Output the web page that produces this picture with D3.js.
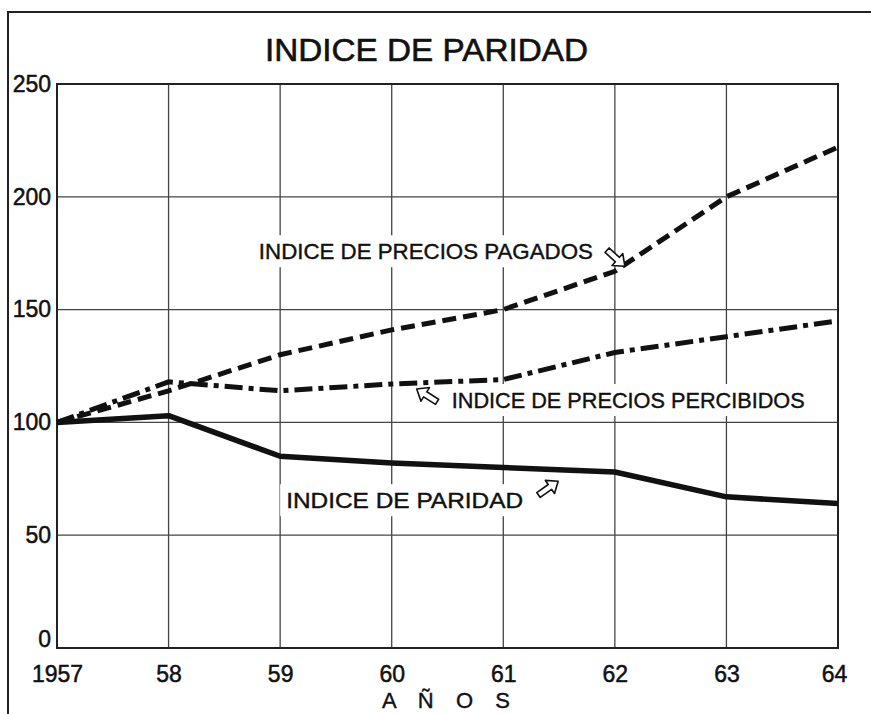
<!DOCTYPE html>
<html>
<head>
<meta charset="utf-8">
<script src="https://cdn.jsdelivr.net/npm/d3@7"></script>
<style>
    body { margin: 0; background: #fff; }
    text { font-family: "Liberation Sans", Arial, sans-serif; fill: #111; }
</style>
</head>
<body>
<svg id="chart"></svg>
<script>
// years on the x axis
const years = ['1957', '58', '59', '60', '61', '62', '63', '64'];
// index values
const pagados = [100, 114, 130, 141, 150, 167, 200, 222];
const percibidos = [100, 118, 114, 117, 119, 131, 138, 145];
const paridad = [100, 103, 85, 82, 80, 78, 67, 64];
const yTicks = [0, 50, 100, 150, 200, 250];

const title = 'INDICE DE PARIDAD';
const xTitle = 'A Ñ O S';

// labels for the three lines, placed next to a point of the series
const notes = [
    { text: 'INDICE DE PRECIOS PAGADOS', series: pagados, at: 5, anchor: 'end', dx: -22, dy: -12, len: 334, ax: 10, ay: -5, angle: 42 },
    { text: 'INDICE DE PRECIOS PERCIBIDOS', series: percibidos, at: 3, anchor: 'start', dx: 60, dy: 24, len: 353, ax: 25, ay: 5, angle: 212 },
    { text: 'INDICE DE PARIDAD', series: paridad, at: 2, anchor: 'start', dx: 6, dy: 52, len: 237, ax: 278, ay: 25, angle: -35 }
];

function drawChart() {
    const width = 871;
    const height = 714;
    const margin = { top: 84, right: 33, bottom: 66, left: 57 };

// Create SVG element
    const svg = d3.select('#chart')
        .attr('width', width)
        .attr('height', height);

    svg.append('rect').attr('width', width).attr('height', height).attr('fill', '#fff');

// outer frame (top and left edge of the sheet)
    svg.append('path')
        .attr('d', `M8,${height} L8,12 L${width},12`)
        .attr('fill', 'none')
        .attr('stroke', '#222')
        .attr('stroke-width', 2);

// scales
    const x = d3.scalePoint(years, [margin.left, width - margin.right]);
    const y = d3.scaleLinear([0, 250], [height - margin.bottom, margin.top]);

// vertical grid
    const grid = svg.append('g');
    grid.selectAll('.vgrid')
        .data(years)
        .enter().append('line')
        .attr('x1', d => x(d)).attr('x2', d => x(d))
        .attr('y1', y(0)).attr('y2', y(250))
        .attr('stroke', '#444')
        .attr('stroke-width', 1.3);

// white patches behind the labels (vertical grid is broken there)
    notes.forEach(n => {
        const px = x(years[n.at]) + n.dx;
        const py = n.series[n.at];
        const left = n.anchor === 'end' ? px - n.len : px;
        svg.append('rect')
            .attr('x', left - 6)
            .attr('y', y(py) + n.dy - 24)
            .attr('width', n.len + 12)
            .attr('height', 32)
            .attr('fill', '#fff');
    });

// horizontal grid
    grid.selectAll('.hgrid')
        .data(yTicks)
        .enter().append('line')
        .attr('x1', x(years[0])).attr('x2', x(years[years.length - 1]))
        .attr('y1', d => y(d)).attr('y2', d => y(d))
        .attr('stroke', '#444')
        .attr('stroke-width', 1.3);

// border of the plot
    svg.append('rect')
        .attr('x', x(years[0]))
        .attr('y', y(250))
        .attr('width', x(years[years.length - 1]) - x(years[0]))
        .attr('height', y(0) - y(250))
        .attr('fill', 'none')
        .attr('stroke', '#222')
        .attr('stroke-width', 2);

// axes labels
    const yAxis = d3.axisLeft(y).tickValues(yTicks).tickSize(0).tickPadding(6);
    svg.append('g')
        .attr('transform', `translate(${margin.left},0)`)
        .call(yAxis)
        .call(g => g.select('.domain').remove())
        .selectAll('text')
        .attr('font-size', 23)
        .attr('font-family', '"Liberation Sans", Arial, sans-serif')
        .attr('fill', '#111')
        .attr('stroke', '#111').attr('stroke-width', 0.5)
        .attr('dy', d => d === 0 ? '-0.05em' : '0.32em');

    const xAxis = d3.axisBottom(x).tickSize(0).tickPadding(18);
    svg.append('g')
        .attr('transform', `translate(0,${y(0)})`)
        .call(xAxis)
        .call(g => g.select('.domain').remove())
        .selectAll('text')
        .attr('font-size', 23)
        .attr('font-family', '"Liberation Sans", Arial, sans-serif')
        .attr('fill', '#111')
        .attr('stroke', '#111').attr('stroke-width', 0.5)
        .attr('dx', d => d === '64' ? '-4' : '0');

// lines
    const line = d3.line()
        .x((d, i) => x(years[i]))
        .y(d => y(d));

    svg.append('path')
        .datum(pagados)
        .attr('d', line)
        .attr('fill', 'none')
        .attr('stroke', '#111')
        .attr('stroke-width', 5)
        .attr('stroke-dasharray', '14,7');

    svg.append('path')
        .datum(percibidos)
        .attr('d', line)
        .attr('fill', 'none')
        .attr('stroke', '#111')
        .attr('stroke-width', 5)
        .attr('stroke-dasharray', '18,6,5,6');

    svg.append('path')
        .datum(paridad)
        .attr('d', line)
        .attr('fill', 'none')
        .attr('stroke', '#111')
        .attr('stroke-width', 5.5)
        .attr('stroke-linejoin', 'round');

// line labels and their hollow arrows
    notes.forEach(n => {
        const px = x(years[n.at]) + n.dx;
        const py = y(n.series[n.at]) + n.dy;
        svg.append('text')
            .attr('x', px)
            .attr('y', py)
            .attr('text-anchor', n.anchor)
            .attr('font-size', 22)
            .attr('textLength', n.len)
            .attr('lengthAdjust', 'spacingAndGlyphs')
            .attr('stroke', '#111').attr('stroke-width', 0.4)
            .text(n.text);

        const tx = x(years[n.at]) + n.ax;
        const ty = y(n.series[n.at]) + n.ay;
        svg.append('path')
            .attr('d', 'M0,0 L-10,-8 L-10,-3 L-24,-3 L-24,3 L-10,3 L-10,8 Z')
            .attr('transform', `translate(${tx},${ty}) rotate(${n.angle})`)
            .attr('fill', '#fff')
            .attr('stroke', '#111')
            .attr('stroke-width', 1.6)
            .attr('stroke-linejoin', 'round');
    });

// title
    svg.append('text')
        .attr('x', 265)
        .attr('y', 61)
        .attr('font-size', 32)
        .attr('textLength', 323)
        .attr('lengthAdjust', 'spacingAndGlyphs')
        .attr('stroke', '#111').attr('stroke-width', 0.6)
        .text(title);

// x axis title
    svg.append('text')
        .attr('x', 382)
        .attr('y', 708)
        .attr('font-size', 22)
        .attr('textLength', 128)
        .attr('lengthAdjust', 'spacing')
        .attr('stroke', '#111').attr('stroke-width', 0.4)
        .text(xTitle);
}

drawChart();
</script>
</body>
</html>
